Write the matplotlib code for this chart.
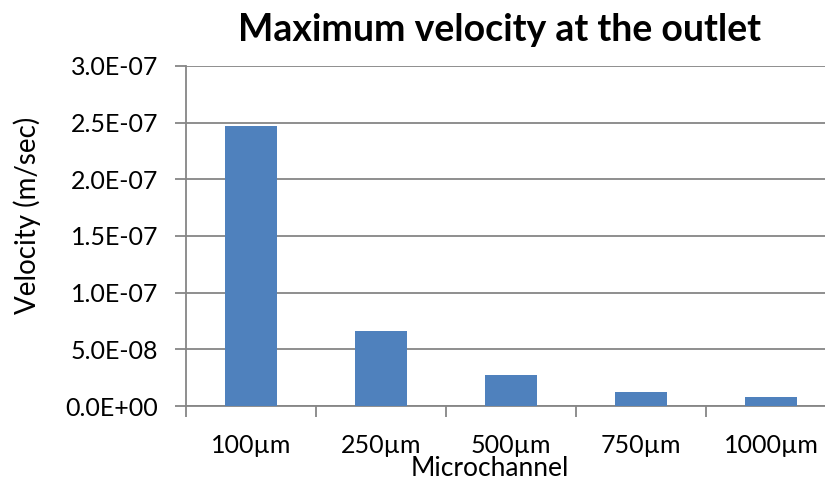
import matplotlib
matplotlib.use("Agg")
import matplotlib.pyplot as plt
import numpy as np

channels = ["100µm", "250µm", "500µm", "750µm", "1000µm"]
velocity = [2.47e-07, 6.6e-08, 2.7e-08, 1.24e-08, 8.0e-09]
yticks = [0, 5e-08, 1e-07, 1.5e-07, 2e-07, 2.5e-07, 3e-07]
ytick_labels = ["0.0E+00", "5.0E-08", "1.0E-07", "1.5E-07", "2.0E-07", "2.5E-07", "3.0E-07"]

plt.rcParams["font.family"] = ["Lato", "DejaVu Sans"]
W, H = 825, 484
fig = plt.figure(figsize=(W / 100, H / 100), dpi=100)
ax = fig.add_axes([186 / W, (H - 406) / H, 650 / W, 340 / H])

x = np.arange(len(channels))
ax.bar(x, velocity, width=0.4, color="#4F81BD", zorder=3)

grid_c = "#868686"
ax.set_ylim(0, 3e-07)
ax.set_xlim(-0.5, len(channels) - 0.5)
ax.set_yticks(yticks)
ax.set_yticklabels(ytick_labels, fontsize=18)
ax.yaxis.grid(True, color=grid_c, lw=1.3, zorder=0)
ax.tick_params(axis="y", length=8, width=1.3, color=grid_c, pad=12)

ax.set_xticks(x)
ax.set_xticklabels(channels, fontsize=18)
ax.tick_params(axis="x", which="major", length=0, pad=20)
ax.set_xticks(np.arange(len(channels) + 1) - 0.5, minor=True)
ax.tick_params(axis="x", which="minor", length=8, width=1.3, color=grid_c)

for s in ["top", "right"]:
    ax.spines[s].set_visible(False)
for s in ["left", "bottom"]:
    ax.spines[s].set_color(grid_c)
    ax.spines[s].set_linewidth(1.3)

fig.text(500 / W, 1 - 30 / H, "Maximum velocity at the outlet", ha="center",
         va="center", fontsize=27, fontweight="bold")
fig.text(27 / W, 1 - 215 / H, "Velocity (m/sec)", ha="center", va="center",
         rotation=90, fontsize=20)
fig.text(490 / W, 1 - 469 / H, "Microchannel", ha="center", va="center",
         fontsize=19)

fig.savefig("out.png", dpi=100)
